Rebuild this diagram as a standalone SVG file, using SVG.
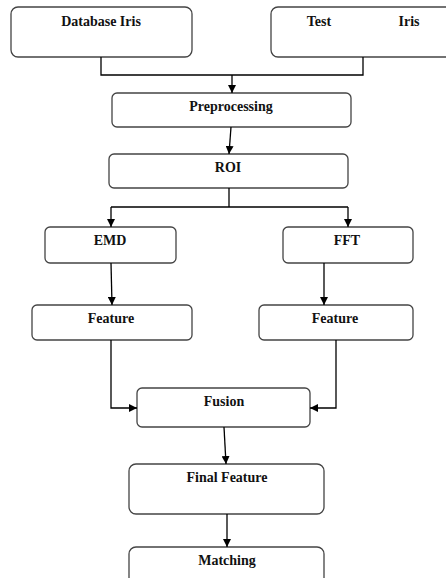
<svg xmlns="http://www.w3.org/2000/svg" width="446" height="578" viewBox="0 0 446 578">
<defs>
<marker id="ah" viewBox="0 0 10 10" refX="10" refY="5" markerWidth="8" markerHeight="8" markerUnits="userSpaceOnUse" orient="auto">
<path d="M0,0 L10,5 L0,10 z" fill="#000"/>
</marker>
<style>
.box{fill:#fff;stroke:#444;stroke-width:1.3}
.t{font-family:'Liberation Serif','Times New Roman','DejaVu Serif',serif;font-weight:bold;font-size:14px;fill:#111;text-anchor:middle}
.c{fill:none;stroke:#000;stroke-width:1.3}
.a{marker-end:url(#ah)}
</style>
</defs>
<rect width="446" height="578" fill="#fff"/>
<g id="database"><rect class="box" x="11" y="7" width="181" height="50" rx="7"/><text class="t" x="101" y="26">Database Iris</text></g>
<g id="test"><rect class="box" x="271" y="7" width="182" height="50" rx="7"/><text class="t" x="319" y="26">Test</text><text class="t" x="409" y="26">Iris</text></g>
<g id="preprocessing"><rect class="box" x="112" y="93" width="239" height="34" rx="5"/><text class="t" x="231" y="111">Preprocessing</text></g>
<g id="roi"><rect class="box" x="109" y="154" width="239" height="34" rx="5"/><text class="t" x="228" y="172">ROI</text></g>
<g id="emd"><rect class="box" x="45" y="227" width="131" height="36" rx="5"/><text class="t" x="110" y="245">EMD</text></g>
<g id="fft"><rect class="box" x="283" y="227" width="130" height="36" rx="5"/><text class="t" x="347" y="245">FFT</text></g>
<g id="feature1"><rect class="box" x="32" y="305" width="160" height="35" rx="5"/><text class="t" x="111" y="323">Feature</text></g>
<g id="feature2"><rect class="box" x="259" y="305" width="154" height="35" rx="5"/><text class="t" x="335" y="323">Feature</text></g>
<g id="fusion"><rect class="box" x="137" y="388" width="173" height="39" rx="5"/><text class="t" x="224" y="406">Fusion</text></g>
<g id="finalfeature"><rect class="box" x="129" y="464" width="195" height="50" rx="7"/><text class="t" x="227" y="482">Final Feature</text></g>
<g id="matching"><rect class="box" x="129" y="547" width="195" height="40" rx="7"/><text class="t" x="227" y="565">Matching</text></g>
<g id="connectors">
<path class="c" d="M101,57 V75 H363 V57"/>
<path class="c a" d="M232,75 V93"/>
<path class="c a" d="M231,127 L229,154"/>
<path class="c" d="M229,188 V207 M111,207 H348"/>
<path class="c a" d="M111,207 V227"/>
<path class="c a" d="M348,207 V227"/>
<path class="c a" d="M111,263 L112,305"/>
<path class="c a" d="M324,263 V305"/>
<path class="c a" d="M111,340 V408 H137"/>
<path class="c a" d="M336,340 V408 H310"/>
<path class="c a" d="M224,427 L226,464"/>
<path class="c a" d="M227,514 V547"/>
</g>
</svg>
